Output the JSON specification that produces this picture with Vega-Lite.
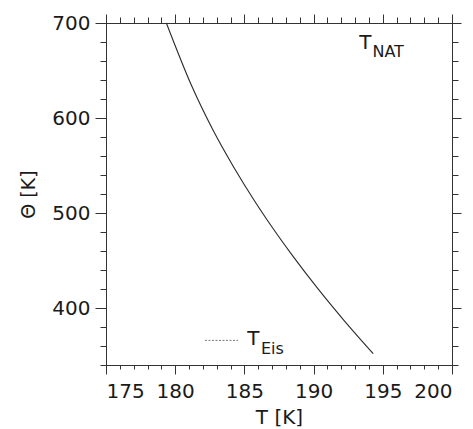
{
  "$schema": "https://vega.github.io/schema/vega-lite/v6.json",
  "autosize": "none",
  "width": 346,
  "height": 342,
  "padding": {"left": 106, "top": 23, "right": 21, "bottom": 64},
  "background": "white",
  "config": {
    "view": {"stroke": null},
    "axis": {"labelFont": "DejaVu Sans", "titleFont": "DejaVu Sans", "labelColor": "#1a1a1a", "titleColor": "#1a1a1a", "domainColor": "#333", "tickColor": "#333", "grid": false, "labelFontWeight": "normal", "titleFontWeight": "normal"}
  },
  "datasets": {
    "nat": [
      {"T": 179.36, "theta": 700},
      {"T": 181.22, "theta": 632.8},
      {"T": 182.73, "theta": 587.3},
      {"T": 184.21, "theta": 548.7},
      {"T": 185.69, "theta": 513.7},
      {"T": 186.56, "theta": 494.5},
      {"T": 188.53, "theta": 454.1},
      {"T": 190.28, "theta": 420.9},
      {"T": 192.16, "theta": 387.6},
      {"T": 194.31, "theta": 351.9}
    ],
    "legend": [{"T1": 182.15, "T2": 184.54, "theta": 365.9}],
    "big": [
      {"T": 193.3, "theta": 673.1, "label": "T"},
      {"T": 185.2, "theta": 361.3, "label": "T"}
    ],
    "sub": [
      {"T": 194.25, "theta": 664.3, "label": "NAT"},
      {"T": 186.2, "theta": 351.9, "label": "Eis"}
    ]
  },
  "resolve": {"axis": {"x": "independent", "y": "independent"}},
  "layer": [
    {
      "data": {"name": "nat"},
      "mark": {"type": "line", "color": "#2a2a2a", "strokeWidth": 1.1, "interpolate": "monotone"},
      "encoding": {
        "x": {"field": "T", "type": "quantitative", "scale": {"domain": [175, 200], "nice": false, "zero": false},
          "axis": {"orient": "bottom", "values": [175, 180, 185, 190, 195, 200], "tickSize": 9, "labelFontSize": 20, "labelPadding": 7, "title": "T [K]", "titleFontSize": 20, "titlePadding": 6}},
        "y": {"field": "theta", "type": "quantitative", "scale": {"domain": [340, 700], "nice": false, "zero": false},
          "axis": {"orient": "left", "values": [400, 500, 600, 700], "tickSize": 11, "labelFontSize": 20, "labelPadding": 5, "title": "Θ [K]", "titleFontSize": 19, "titlePadding": 13}}
      }
    },
    {
      "data": {"name": "legend"},
      "mark": {"type": "rule", "color": "#777", "strokeWidth": 1, "strokeDash": [2, 1.5]},
      "encoding": {
        "x": {"field": "T1", "type": "quantitative", "scale": {"domain": [175, 200], "nice": false, "zero": false},
          "axis": {"orient": "bottom", "values": [175, 176, 177, 178, 179, 180, 181, 182, 183, 184, 185, 186, 187, 188, 189, 190, 191, 192, 193, 194, 195, 196, 197, 198, 199, 200], "tickSize": 4, "labels": false, "domain": false, "title": null}},
        "x2": {"field": "T2"},
        "y": {"field": "theta", "type": "quantitative", "scale": {"domain": [340, 700], "nice": false, "zero": false},
          "axis": {"orient": "left", "values": [340, 360, 380, 400, 420, 440, 460, 480, 500, 520, 540, 560, 580, 600, 620, 640, 660, 680, 700], "tickSize": 6, "labels": false, "domain": false, "title": null}}
      }
    },
    {
      "data": {"name": "big"},
      "mark": {"type": "text", "font": "DejaVu Sans", "fontSize": 20, "align": "left", "baseline": "alphabetic", "color": "#1a1a1a"},
      "encoding": {
        "x": {"field": "T", "type": "quantitative", "scale": {"domain": [175, 200], "nice": false, "zero": false},
          "axis": {"orient": "top", "values": [175, 180, 185, 190, 195, 200], "tickSize": 9, "labels": false, "title": null}},
        "y": {"field": "theta", "type": "quantitative", "scale": {"domain": [340, 700], "nice": false, "zero": false},
          "axis": {"orient": "right", "values": [400, 500, 600, 700], "tickSize": 9, "labels": false, "title": null}},
        "text": {"field": "label"}
      }
    },
    {
      "data": {"name": "sub"},
      "mark": {"type": "text", "font": "DejaVu Sans", "fontSize": 16, "align": "left", "baseline": "alphabetic", "color": "#1a1a1a"},
      "encoding": {
        "x": {"field": "T", "type": "quantitative", "scale": {"domain": [175, 200], "nice": false, "zero": false},
          "axis": {"orient": "top", "values": [175, 176, 177, 178, 179, 180, 181, 182, 183, 184, 185, 186, 187, 188, 189, 190, 191, 192, 193, 194, 195, 196, 197, 198, 199, 200], "tickSize": 6, "labels": false, "domain": false, "title": null}},
        "y": {"field": "theta", "type": "quantitative", "scale": {"domain": [340, 700], "nice": false, "zero": false},
          "axis": {"orient": "right", "values": [340, 360, 380, 400, 420, 440, 460, 480, 500, 520, 540, 560, 580, 600, 620, 640, 660, 680, 700], "tickSize": 6, "labels": false, "domain": false, "title": null}},
        "text": {"field": "label"}
      }
    }
  ]
}
